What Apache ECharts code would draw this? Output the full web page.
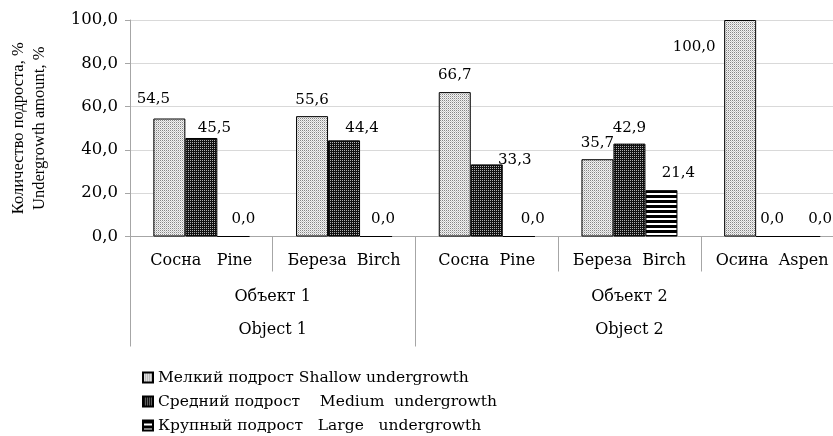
<!DOCTYPE html>
<html>
<head>
<meta charset="utf-8">
<script src="https://cdn.jsdelivr.net/npm/echarts@6/dist/echarts.min.js"></script>
<style>
  html, body { margin: 0; padding: 0; background: #fff; }
  #chart { width: 833px; height: 436px; }
</style>
</head>
<body>
<div id="chart"></div>
<script>
// data
var species = ['Сосна   Pine', 'Береза  Birch', 'Сосна  Pine', 'Береза  Birch', 'Осина  Aspen'];
var objects = ['Объект 1\nObject 1', 'Объект 2\nObject 2'];
var objectSpan = [2, 3];
var seriesNames = [
  'Мелкий подрост Shallow undergrowth',
  'Средний подрост    Medium  undergrowth',
  'Крупный подрост   Large   undergrowth'
];
var shallow = [54.5, 55.6, 66.7, 35.7, 100.0];
var medium = [45.5, 44.4, 33.3, 42.9, 0.0];
var large = [0.0, 0.0, 0.0, 21.4, 0.0];

// label nudges (labels were dragged by hand in the original)
var labelNudge = [
  [[-16, -3], [0, 0], [0, 0], [0, 0], [-46, 44]],
  [[13, 7], [18, 4], [28, 12], [0, 1], [0, 0]],
  [[10, 0], [7, 0], [14, 0], [17, -1], [16, 0]]
];

var SERIF = 'DejaVu Serif';
var axisGrey = '#a6a6a6';

function pattern(w, h, draw) {
  var c = document.createElement('canvas');
  c.width = w; c.height = h;
  draw(c.getContext('2d'));
  return { image: c, repeat: 'repeat' };
}
var fills = [
  pattern(2, 2, function (ctx) {
    ctx.fillStyle = '#f2f2f2'; ctx.fillRect(0, 0, 2, 2);
    ctx.fillStyle = '#858585'; ctx.fillRect(0, 0, 1, 1);
    ctx.fillStyle = '#c8c8c8'; ctx.fillRect(1, 1, 1, 1);
  }),
  pattern(2, 2, function (ctx) {
    ctx.fillStyle = '#111111'; ctx.fillRect(0, 0, 2, 2);
    ctx.fillStyle = '#b0b0b0'; ctx.fillRect(0, 0, 1, 1);
  }),
  pattern(1, 5, function (ctx) {
    ctx.fillStyle = '#ffffff'; ctx.fillRect(0, 0, 1, 5);
    ctx.fillStyle = '#000000'; ctx.fillRect(0, 0, 1, 3);
  })
];

// group ticks / label positions on the second x axis (in category units)
var groupTicks = [0];
var groupCenters = [];
objectSpan.forEach(function (s, i) {
  var start = groupTicks[i];
  groupCenters.push(start + s / 2);
  groupTicks.push(start + s);
});

function fmt(v) { return v.toFixed(1).replace('.', ','); }

var chart = echarts.init(document.getElementById('chart'));

var series = [shallow, medium, large].map(function (vals, si) {
  return {
    name: seriesNames[si],
    type: 'bar',
    barWidth: 32,
    barGap: '0%',
    itemStyle: { color: fills[si], borderColor: '#000', borderWidth: 1 },
    label: {
      show: true,
      position: 'top',
      distance: 9,
      fontFamily: SERIF,
      fontSize: 15,
      color: '#000',
      formatter: function (p) { return fmt(p.value); }
    },
    data: vals.map(function (v, i) {
      return { value: v, label: { offset: labelNudge[si][i] } };
    })
  };
});

var option = {
  animation: false,
  backgroundColor: '#fff',
  grid: {
    left: 130, top: 20, width: 713.5, height: 216.5,
    containLabel: false, outerBoundsMode: 'none'
  },
  legend: {
    orient: 'vertical',
    left: 142,
    top: 369,
    height: 90,
    padding: 0,
    itemWidth: 10,
    itemHeight: 10,
    itemGap: 7,
    icon: 'rect',
    textStyle: { fontFamily: SERIF, fontSize: 15.5, color: '#000', lineHeight: 17 },
    data: seriesNames
  },
  xAxis: [
    {
      type: 'category',
      position: 'bottom',
      data: species,
      axisLine: { lineStyle: { color: axisGrey, width: 1 } },
      axisTick: { show: true, interval: 0, length: 35, lineStyle: { color: axisGrey } },
      axisLabel: { interval: 0, margin: 16, fontFamily: SERIF, fontSize: 16, color: '#000' },
      splitLine: { show: false }
    },
    {
      type: 'value',
      position: 'bottom',
      min: 0,
      max: species.length,
      axisLine: { show: false },
      splitLine: { show: false },
      axisTick: { show: true, length: 110, customValues: groupTicks, lineStyle: { color: axisGrey } },
      axisLabel: {
        customValues: groupCenters,
        margin: 44,
        fontFamily: SERIF,
        fontSize: 16,
        lineHeight: 33,
        color: '#000',
        formatter: function (v) {
          var i = groupCenters.indexOf(v);
          return i >= 0 ? objects[i] : '';
        }
      }
    }
  ],
  yAxis: {
    type: 'value',
    min: 0,
    max: 100,
    interval: 20,
    axisLine: { show: true, lineStyle: { color: axisGrey } },
    axisTick: { show: true, length: 5, lineStyle: { color: axisGrey } },
    axisLabel: { margin: 12, fontFamily: SERIF, fontSize: 16.5, color: '#000', formatter: fmt },
    splitLine: { lineStyle: { color: '#d9d9d9' } },
    name: 'Количество подроста, %\nUndergrowth amount, %',
    nameLocation: 'middle',
    nameRotate: 90,
    nameGap: 80,
    nameTextStyle: { fontFamily: 'Liberation Serif', fontSize: 16.5, lineHeight: 21, color: '#000' }
  },
  series: series
};

chart.setOption(option);
</script>
</body>
</html>
